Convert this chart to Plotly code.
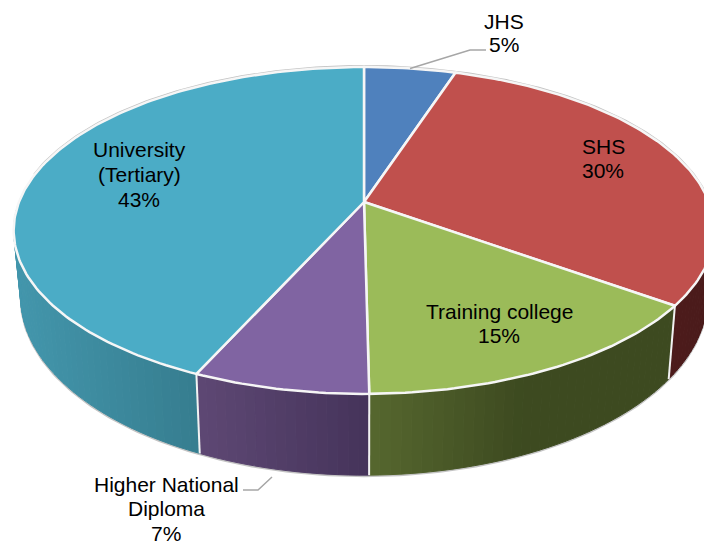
import math
import plotly.graph_objects as go

# ---- data ----
categories = ["JHS", "SHS", "Training college", "Higher National Diploma", "University (Tertiary)"]
values = [5, 30, 14.8, 6.9, 43.3]
label_lines = [["JHS", "5%"], ["SHS", "30%"], ["Training college", "15%"],
               ["Higher National", "Diploma", "7%"], ["University", "(Tertiary)", "43%"]]

# ---- styling ----
top_colors = ["#4F81BD", "#C0504D", "#9BBB59", "#8064A2", "#4BACC6"]
# wall colour stops, left to right on screen
wall_stops = [None, ["#4F1C1C", "#4A1B1B"], ["#56672F", "#3D4A20", "#3D4A20"],
              ["#5E4874", "#45335A"], ["#4396AC", "#367D8F"]]
label_pos = [(504, 21, 23.5), (603, 146, 24), (499, 311, 24), (166, 484, 24.5), (139, 149, 25)]
FONT = dict(family="Liberation Sans, Arial", size=21, color="#000000")

CX, CY, X, Y, K = 364, 202, 345, 158.5, 0.174
BX, BY, BS = 0.98, 266, 1.09


def top(t):
    u, v = math.sin(t), math.cos(t)
    w = 1 + K * v
    return CX + X * u / w, CY - Y * v / w


def bottom(t):
    u, v = math.sin(t), math.cos(t)
    w = 1 + K * v
    return CX + BX * X * u / w, BY - BS * Y * v / w


def hex2rgb(h):
    return tuple(int(h[i:i + 2], 16) for i in (1, 3, 5))


def ramp(stops, f):
    f = max(0, min(1, f)) * (len(stops) - 1)
    i = min(int(f), len(stops) - 2)
    a, b = hex2rgb(stops[i]), hex2rgb(stops[i + 1])
    c = [round(a[j] + (b[j] - a[j]) * (f - i)) for j in range(3)]
    return "rgb(%d,%d,%d)" % tuple(c)


def arc(fn, a, b, step=math.radians(1)):
    n = max(2, int(abs(b - a) / step) + 1)
    return [fn(a + (b - a) * i / n) for i in range(n + 1)]


total = sum(values)
edges = [0.0]
for val in values:
    edges.append(edges[-1] + val / total * 2 * math.pi)

fig = go.Figure()


def poly(pts, fill, line=None, width=1):
    fig.add_trace(go.Scatter(x=[p[0] for p in pts], y=[p[1] for p in pts], mode="lines",
                             fill="toself", fillcolor=fill,
                             line=dict(color=line or fill, width=width),
                             hoverinfo="skip", showlegend=False))


def stroke(pts, color, width):
    fig.add_trace(go.Scatter(x=[p[0] for p in pts], y=[p[1] for p in pts], mode="lines",
                             line=dict(color=color, width=width),
                             hoverinfo="skip", showlegend=False))


# outer grey rim behind everything
rim_pts = arc(top, -math.radians(80), math.radians(100))
stroke([(x, y - 1) for x, y in rim_pts], "#C4C4C4", 2)
LEFT_END = math.radians(285)
stroke([(x, y + 1) for x, y in arc(bottom, math.radians(95), LEFT_END)], "#C4C4C4", 2)

# side walls, one narrow strip per step so the colour can run across the screen
for i in range(1, 5):
    a, b = edges[i], min(edges[i + 1], LEFT_END)
    if i == 1:
        a = max(a, math.radians(60))
    tp = arc(top, a, b, math.radians(1.5))
    bt = arc(bottom, a, b, math.radians(1.5))
    xs = [p[0] for p in tp]
    lo, hi = min(xs), max(xs)
    for j in range(len(tp) - 1):
        xm = (tp[j][0] + tp[j + 1][0]) / 2
        colour = ramp(wall_stops[i], (xm - lo) / (hi - lo))
        poly([tp[j], tp[j + 1], bt[j + 1], bt[j], tp[j]], colour)
    # white seam at the wall's starting edge
    stroke([top(edges[i]), bottom(edges[i])], "#F2F2F2", 2)

# top face
for i in range(5):
    pts = [(CX, CY)] + arc(top, edges[i], edges[i + 1]) + [(CX, CY)]
    poly(pts, top_colors[i], "#F6F6F6", 2.5)

# leader lines
stroke([top(math.radians(9)), (470, 50), (486, 50)], "#A6A6A6", 1.5)
stroke([(243, 490), (258, 490), (272, 477)], "#A6A6A6", 1.5)

annotations = []
for lines, (x, y, gap) in zip(label_lines, label_pos):
    for n, line in enumerate(lines):
        annotations.append(dict(x=x, y=y + n * gap, text=line, showarrow=False, font=FONT,
                                xref="x", yref="y", xanchor="center", yanchor="middle"))

fig.update_layout(
    width=704, height=543, margin=dict(l=0, r=0, t=0, b=0),
    paper_bgcolor="white", plot_bgcolor="white", showlegend=False,
    xaxis=dict(range=[0, 704], visible=False, fixedrange=True),
    yaxis=dict(range=[543, 0], visible=False, fixedrange=True),
    annotations=annotations,
)
fig.write_html("out.html", config=dict(displayModeBar=False),
               post_script="document.body.style.margin='0';document.documentElement.style.overflow='hidden';")
